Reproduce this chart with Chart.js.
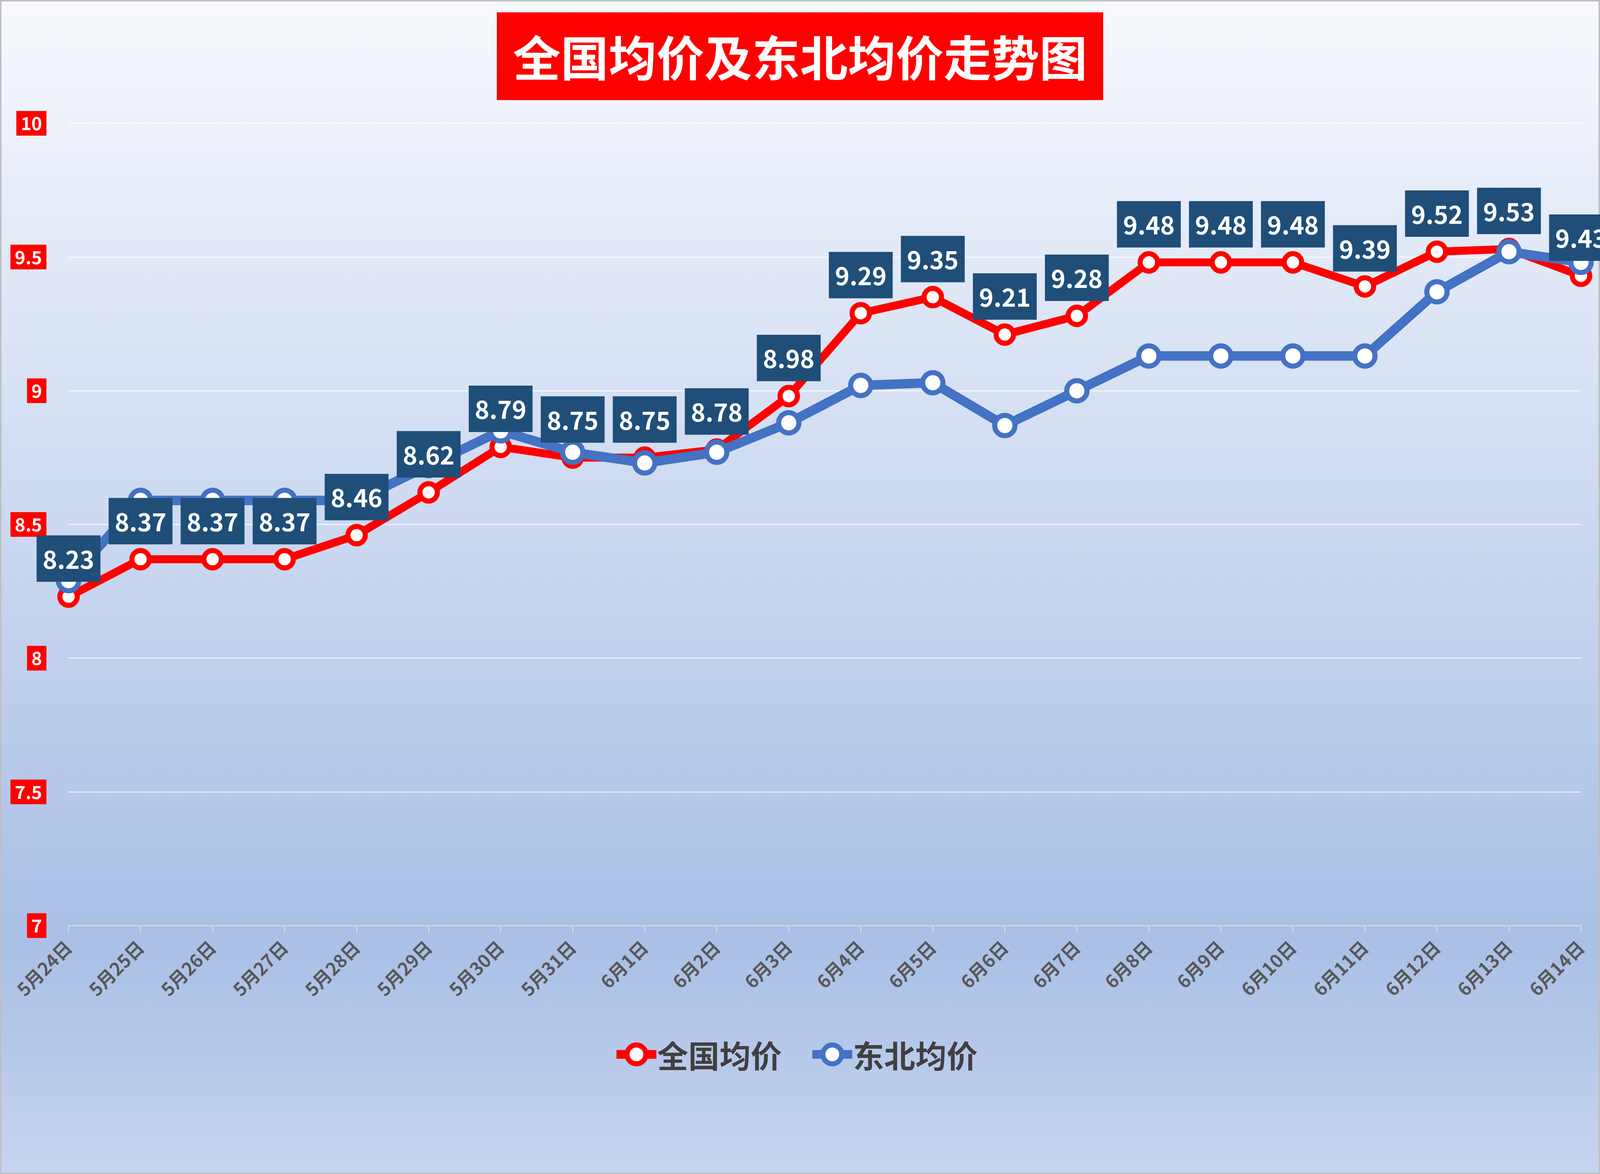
<!DOCTYPE html>
<html><head><meta charset="utf-8">
<script src="https://cdn.jsdelivr.net/npm/chart.js@4/dist/chart.umd.min.js"></script>
<style>html,body{margin:0;padding:0;overflow:hidden}canvas{display:block}</style>
</head><body>
<canvas id="c"></canvas>
<script>
// data
const days = ['5月24日','5月25日','5月26日','5月27日','5月28日','5月29日','5月30日','5月31日','6月1日','6月2日','6月3日','6月4日','6月5日','6月6日','6月7日','6月8日','6月9日','6月10日','6月11日','6月12日','6月13日','6月14日'];
const national = [8.23,8.37,8.37,8.37,8.46,8.62,8.79,8.75,8.75,8.78,8.98,9.29,9.35,9.21,9.28,9.48,9.48,9.48,9.39,9.52,9.53,9.43];
const northeast = [8.29,8.59,8.59,8.59,8.59,8.72,8.85,8.77,8.73,8.77,8.88,9.02,9.03,8.87,9.0,9.13,9.13,9.13,9.13,9.37,9.52,9.48];
const yTicks = [7,7.5,8,8.5,9,9.5,10];
const titleText = '全国均价及东北均价走势图';

const FONT = '"Noto Sans CJK SC", "Noto Sans", sans-serif';

// layout was worked out for 4412 wide, scale to the real css size
const cw = window.innerWidth, chh = window.innerHeight;
const S = cw / 4412;
const p = v => v * S;
const canvas = document.getElementById('c');
canvas.style.width = cw + 'px';
canvas.style.height = chh + 'px';
canvas.width = cw; canvas.height = chh;

const decor = {
  id: 'decor',
  beforeDraw(chart) {
    const ctx = chart.ctx, W = chart.width, H = chart.height;
    const g = ctx.createLinearGradient(0, 0, 0, H);
    g.addColorStop(0, '#f7f9fd');
    g.addColorStop(0.8, '#a9bfe6');
    g.addColorStop(1, '#c6d4ef');
    ctx.save();
    ctx.fillStyle = g;
    ctx.fillRect(0, 0, W, H);
    ctx.strokeStyle = '#bfbfbf';
    ctx.lineWidth = p(4);
    ctx.strokeRect(p(2), p(2), W - p(4), H - p(4));
    ctx.restore();
  },
  afterDraw(chart) {
    const ctx = chart.ctx, y = chart.scales.y;
    ctx.save();
    // title
    ctx.fillStyle = '#ff0000';
    ctx.fillRect(p(1370), p(34), p(1672), p(242));
    ctx.fillStyle = '#fff';
    ctx.font = 'bold ' + p(132) + 'px ' + FONT;
    ctx.textAlign = 'center';
    ctx.textBaseline = 'middle';
    ctx.fillText(titleText, p(2206), p(160));
    // y tick boxes
    ctx.font = 'bold ' + p(50) + 'px ' + FONT;
    yTicks.forEach(v => {
      const py = y.getPixelForValue(v);
      const txt = String(v);
      const w = ctx.measureText(txt).width + p(24);
      ctx.fillStyle = '#ff0000';
      ctx.fillRect(p(128) - w, py - p(34), w, p(68));
      ctx.fillStyle = '#fff';
      ctx.fillText(txt, p(128) - w / 2, py);
    });
    // data labels over the national series
    const meta = chart.getDatasetMeta(0);
    ctx.font = 'bold ' + p(68) + 'px ' + FONT;
    meta.data.forEach((pt, i) => {
      const cy = pt.y - p(105);
      ctx.fillStyle = '#1f4e79';
      ctx.fillRect(pt.x - p(88), cy - p(64), p(176), p(128));
      ctx.fillStyle = '#fff';
      ctx.fillText(national[i].toFixed(2), pt.x, cy + p(2));
    });
    // legend
    const items = [['全国均价', '#ff0000', 1700], ['东北均价', '#4472c4', 2240]];
    ctx.font = 'bold ' + p(86) + 'px ' + FONT;
    ctx.textAlign = 'left';
    items.forEach(([t, c, x]) => {
      const ly = p(2907), lx = p(x);
      ctx.strokeStyle = c; ctx.lineWidth = p(24);
      ctx.beginPath(); ctx.moveTo(lx, ly); ctx.lineTo(lx + p(110), ly); ctx.stroke();
      ctx.beginPath(); ctx.arc(lx + p(55), ly, p(26), 0, Math.PI * 2);
      ctx.fillStyle = '#fff'; ctx.fill(); ctx.lineWidth = p(14); ctx.stroke();
      ctx.fillStyle = '#404040';
      ctx.fillText(t, lx + p(112), ly + p(4));
    });
    ctx.restore();
  }
};

new Chart(canvas, {
  type: 'line',
  data: {
    labels: days,
    datasets: [
      { label: '全国均价', data: national, borderColor: '#ff0000', borderWidth: p(22),
        pointRadius: p(24), pointBorderWidth: p(14), pointBackgroundColor: '#fff', pointBorderColor: '#ff0000', order: 2 },
      { label: '东北均价', data: northeast, borderColor: '#4472c4', borderWidth: p(26),
        pointRadius: p(28), pointBorderWidth: p(14), pointBackgroundColor: '#fff', pointBorderColor: '#4472c4', order: 1 }
    ]
  },
  options: {
    responsive: false, animation: false,
    layout: { padding: { top: p(340), right: p(50), left: 0, bottom: 0 } },
    plugins: { legend: { display: false }, tooltip: { enabled: false } },
    scales: {
      y: {
        min: 7, max: 10,
        afterFit(s) { s.width = p(189); },
        ticks: { display: false, stepSize: 0.5 },
        grid: { color: 'rgba(255,255,255,0.75)', lineWidth: p(3), drawTicks: false },
        border: { display: false }
      },
      x: {
        afterFit(s) { s.height = chh - p(2552); },
        ticks: { minRotation: 45, maxRotation: 45, color: '#595959', font: { size: p(50), weight: 'bold', family: FONT }, padding: p(10) },
        grid: { drawOnChartArea: false, color: '#d9d9d9', lineWidth: p(3), tickLength: p(20) },
        border: { color: '#d9d9d9', width: p(3) }
      }
    }
  },
  plugins: [decor]
});
</script>
</body></html>
